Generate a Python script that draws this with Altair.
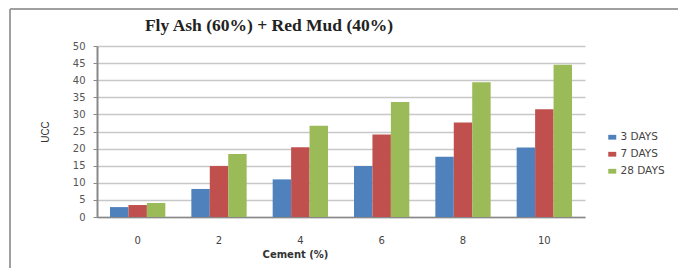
import altair as alt
import pandas as pd

cement = ["0", "2", "4", "6", "8", "10"]
series = ["3 DAYS", "7 DAYS", "28 DAYS"]
days3 = [2.9, 8.2, 11.0, 14.9, 17.6, 20.3]
days7 = [3.5, 14.9, 20.4, 24.1, 27.6, 31.5]
days28 = [4.1, 18.4, 26.7, 33.6, 39.4, 44.5]
colors = ["#4F81BD", "#C0504D", "#9BBB59"]
chart_title = "Fly Ash (60%) + Red Mud (40%)"

rows = []
for s, vals in zip(series, [days3, days7, days28]):
    for c, v in zip(cement, vals):
        rows.append({"Cement": c, "Series": s, "UCC": v})
df = pd.DataFrame(rows)
one = pd.DataFrame({"t": [chart_title]})

wide = "DejaVu Sans"

bars = alt.Chart(df).mark_bar().encode(
    x=alt.X("Cement:N", sort=cement,
            scale=alt.Scale(paddingInner=0.32, paddingOuter=0.16),
            axis=alt.Axis(title="Cement (%)", labelAngle=0, labelFontSize=10, labelFont=wide,
                          labelColor="#444", labelPadding=18, ticks=False,
                          domainColor="#888", domainWidth=1.5,
                          titleFontSize=10, titleFontWeight="bold", titleColor="#333",
                          titleFont=wide, titlePadding=4, titleX=198, grid=False)),
    xOffset=alt.XOffset("Series:N", sort=series),
    y=alt.Y("UCC:Q", scale=alt.Scale(domain=[0, 50]),
            axis=alt.Axis(title="UCC", values=list(range(0, 51, 5)), labelFontSize=10,
                          labelFont=wide,
                          labelColor="#555", labelPadding=8, tickSize=4, tickColor="#888",
                          domainColor="#888", domainWidth=2, gridColor="#c8c8c8",
                          gridWidth=1.5, titleFontSize=10, titleColor="#333",
                          titleFontWeight="normal", titlePadding=22)),
    color=alt.Color("Series:N", sort=series,
                    scale=alt.Scale(domain=series, range=colors),
                    legend=alt.Legend(title=None, orient="none", legendX=510, legendY=86,
                                      symbolType="M-1,-0.6H1V0.6H-1Z", symbolSize=64,
                                      labelFontSize=10.5, labelFont=wide, labelColor="#444",
                                      labelOffset=3,
                                      rowPadding=6, symbolStrokeWidth=0)),
)

frame_left = alt.Chart(one).mark_rule(color="#a0a0a0", strokeWidth=2).encode(
    x=alt.value(-87), y=alt.value(-37), y2=alt.value(222))
frame_top = alt.Chart(one).mark_rule(color="#a0a0a0", strokeWidth=2).encode(
    x=alt.value(-87), x2=alt.value(600), y=alt.value(-37))
title_mark = alt.Chart(one).mark_text(
    font="Liberation Serif", fontSize=17.5, fontWeight="bold", color="#222",
    align="center", baseline="alphabetic").encode(
    x=alt.value(172), y=alt.value(-15), text="t:N")

chart = alt.layer(bars, frame_left, frame_top, title_mark).properties(
    width=488, height=171,
    padding={"left": 89, "top": 38, "right": 93, "bottom": 52},
    autosize=alt.AutoSizeParams(type="none"),
).configure(font="Liberation Sans").configure_view(stroke=None)

chart.save("out.html", embed_options={"renderer": "svg", "actions": False})
